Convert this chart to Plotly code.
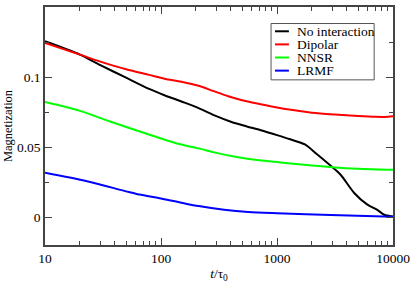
import plotly.graph_objects as go

# ---- data ----
t_none = [10, 20, 30, 50, 79, 107, 150, 211, 300, 400, 550, 725, 1000, 1300, 1740, 2200, 3000, 3550, 4650, 5980, 7370, 8400, 10000]
m_none = [0.1255, 0.116, 0.1085, 0.0995, 0.0915, 0.087, 0.0825, 0.0778, 0.0720, 0.0680, 0.0647, 0.062, 0.0585, 0.0555, 0.0518, 0.045, 0.0356, 0.030, 0.017, 0.009, 0.0049, 0.0016, 0.0003]

t_dip = [10, 20, 30, 50, 79, 107, 150, 211, 280, 380, 500, 725, 1230, 2000, 3160, 5000, 7000, 8500, 10000]
m_dip = [0.1243, 0.116, 0.111, 0.1055, 0.1015, 0.0988, 0.0966, 0.0937, 0.0901, 0.0862, 0.0834, 0.0806, 0.0769, 0.0745, 0.0732, 0.0722, 0.0716, 0.0715, 0.0719]

t_nnsr = [10, 20, 37, 72, 137, 211, 300, 450, 700, 1070, 2000, 3000, 5000, 10000]
m_nnsr = [0.0821, 0.0758, 0.068, 0.060, 0.0525, 0.0490, 0.0458, 0.0428, 0.0405, 0.039, 0.0368, 0.0356, 0.0345, 0.0337]

t_lrmf = [10, 23, 50, 65, 100, 150, 211, 350, 565, 1000, 2900, 10000]
m_lrmf = [0.0316, 0.0256, 0.0183, 0.0160, 0.0132, 0.0102, 0.0078, 0.0052, 0.0036, 0.0027, 0.0014, 0.0002]

names = ["No interaction", "Dipolar", "NNSR", "LRMF"]
colors = ["#000000", "#ff0000", "#00ff00", "#0000ff"]
xs = [t_none, t_dip, t_nnsr, t_lrmf]
ys = [m_none, m_dip, m_nnsr, m_lrmf]

x_ticks = [10, 100, 1000, 10000]
y_ticks = [0, 0.05, 0.1, 0.15]

FONT = "Liberation Serif, Times New Roman, DejaVu Serif, serif"

fig = go.Figure()
for x, y, n, c in zip(xs, ys, names, colors):
    fig.add_trace(go.Scatter(x=x, y=y, name=n, mode="lines",
                             line=dict(color=c, width=2, shape="spline", smoothing=0.8),
                             showlegend=False))

# ---- manual legend (box, samples, labels) in paper coordinates ----
W, H = 415, 284
L, R, T, B = 45, 19, 5, 34
pw, ph = W - L - R, H - T - B

def px2paper(px, py):
    return (px - L) / pw, (H - B - py) / ph

bx0, by0 = px2paper(273, 80)
bx1, by1 = px2paper(377, 22)
fig.add_shape(type="rect", xref="paper", yref="paper", x0=bx0, y0=by0, x1=bx1, y1=by1,
              line=dict(color="#555555", width=1), fillcolor="white", layer="above")
row_y = [30, 43.5, 57, 70.5]
for n, c, ry in zip(names, colors, row_y):
    sx0, sy = px2paper(277, ry)
    sx1, _ = px2paper(291, ry)
    fig.add_shape(type="line", xref="paper", yref="paper", x0=sx0, x1=sx1, y0=sy, y1=sy,
                  line=dict(color=c, width=2), layer="above")
    tx, _ = px2paper(298, ry)
    fig.add_annotation(xref="paper", yref="paper", x=tx, y=sy, text=n, showarrow=False,
                       xanchor="left", yanchor="middle", borderpad=0,
                       font=dict(family=FONT, size=13.5, color="black"))

axis_common = dict(showline=True, linecolor="#444444", linewidth=1.5, mirror="ticks",
                   ticks="inside", ticklen=7, tickcolor="#444444", tickwidth=1,
                   showgrid=False, zeroline=False,
                   tickfont=dict(family=FONT, size=13.5, color="black"))

fig.update_xaxes(type="log", range=[1, 4], tickvals=x_ticks,
                 ticktext=[str(v) for v in x_ticks],
                 minor=dict(ticks="inside", ticklen=4, tickcolor="#444444", dtick="D1", showgrid=False),
                 title=dict(text="<i>t</i>/τ<sub>0</sub>", font=dict(family=FONT, size=13.5, color="black"),
                            standoff=4),
                 **axis_common)
fig.update_yaxes(range=[-0.02, 0.15], tickvals=y_ticks,
                 ticktext=["0", "0.05", "0.1", "0.15"],
                 minor=dict(ticks="inside", ticklen=4, tickcolor="#444444", dtick=0.025, showgrid=False),
                 title=dict(text="Magnetization", font=dict(family=FONT, size=12.5, color="black"),
                            standoff=2),
                 **axis_common)

fig.update_layout(width=W, height=H, margin=dict(l=L, r=R, t=T, b=B),
                  font=dict(family=FONT),
                  paper_bgcolor="white", plot_bgcolor="white", showlegend=False)

fig.write_html("out.html", config={"displayModeBar": False},
               post_script="document.body.style.margin='0';document.body.style.padding='0';")
